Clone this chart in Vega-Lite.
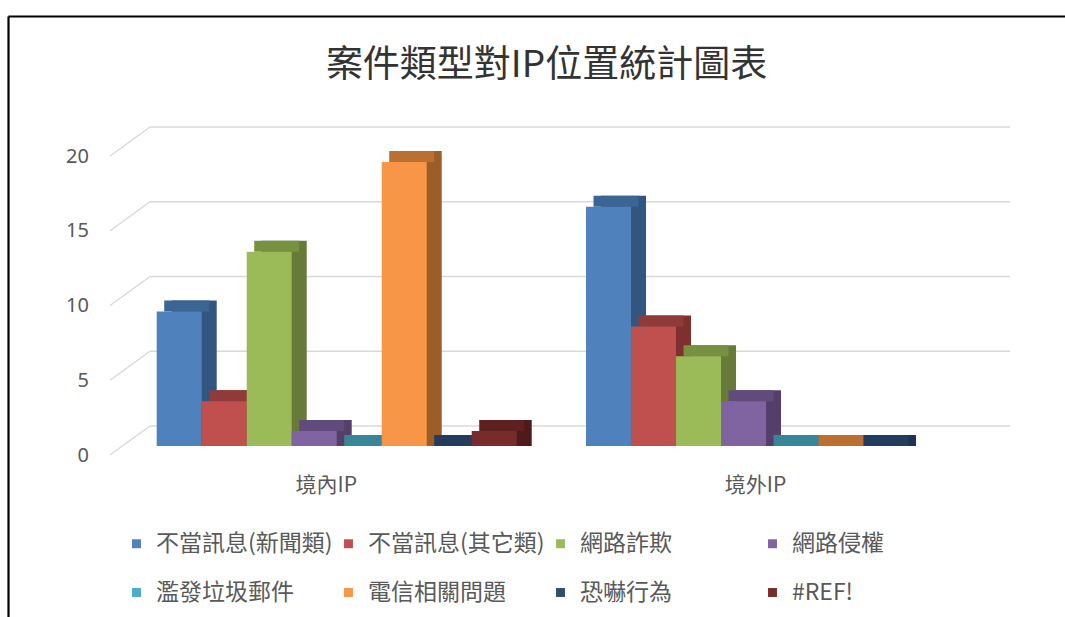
{
  "$schema": "https://vega.github.io/schema/vega-lite/v6.json",
  "width": 1057,
  "height": 601,
  "autosize": {"type": "none"},
  "padding": {"left": 8, "top": 16, "right": 0, "bottom": 0},
  "background": "white",
  "title": {
    "text": "案件類型對IP位置統計圖表",
    "font": "Noto Sans CJK TC",
    "fontSize": 37,
    "fontWeight": "normal",
    "color": "#333333",
    "anchor": "middle",
    "frame": "group",
    "baseline": "middle",
    "offset": 0,
    "dy": 87,
    "dx": 10
  },
  "config": {"view": {"stroke": null}},
  "datasets": {
    "cases": [
      {"group": "境內IP", "series": "不當訊息(新聞類)", "value": 9},
      {"group": "境內IP", "series": "不當訊息(其它類)", "value": 3},
      {"group": "境內IP", "series": "網路詐欺", "value": 13},
      {"group": "境內IP", "series": "網路侵權", "value": 1},
      {"group": "境內IP", "series": "濫發垃圾郵件", "value": 0},
      {"group": "境內IP", "series": "電信相關問題", "value": 19},
      {"group": "境內IP", "series": "恐嚇行為", "value": 0},
      {"group": "境內IP", "series": "#REF!", "value": 1},
      {"group": "境外IP", "series": "不當訊息(新聞類)", "value": 16},
      {"group": "境外IP", "series": "不當訊息(其它類)", "value": 8},
      {"group": "境外IP", "series": "網路詐欺", "value": 6},
      {"group": "境外IP", "series": "網路侵權", "value": 3},
      {"group": "境外IP", "series": "濫發垃圾郵件", "value": 0},
      {"group": "境外IP", "series": "電信相關問題", "value": 0},
      {"group": "境外IP", "series": "恐嚇行為", "value": 0}
    ],
    "grid": [{"v": 0}, {"v": 5}, {"v": 10}, {"v": 15}, {"v": 20}]
  },
  "layer": [
    {
      "data": {"name": "grid"},
      "mark": {"type": "rule", "color": "#d9d9d9", "strokeWidth": 1.5, "xOffset": -226.7, "x2Offset": -186.7, "yOffset": 9, "y2Offset": -20},
      "encoding": {
        "x": {"datum": "境內IP", "type": "nominal", "scale": {"domain": ["境內IP", "境外IP"], "paddingInner": 0.1615, "paddingOuter": 0.3118, "align": 0.5555}},
        "x2": {"datum": "境內IP"},
        "y": {"field": "v", "type": "quantitative", "scale": {"domain": [-11.438, 28.763], "nice": false, "zero": false}},
        "y2": {"field": "v"}
      }
    },
    {
      "data": {"name": "grid"},
      "mark": {"type": "rule", "color": "#d9d9d9", "strokeWidth": 1.5, "xOffset": -186.7, "x2Offset": 244, "yOffset": -20},
      "encoding": {
        "x": {"datum": "境內IP", "type": "nominal", "scale": {"domain": ["境內IP", "境外IP"], "paddingInner": 0.1615, "paddingOuter": 0.3118, "align": 0.5555}},
        "x2": {"datum": "境外IP"},
        "y": {"field": "v", "type": "quantitative", "scale": {"domain": [-11.438, 28.763], "nice": false, "zero": false}}
      }
    },
    {
      "data": {"name": "cases"},
      "mark": {"type": "bar", "yOffset": -11},
      "encoding": {
        "x": {"field": "group", "type": "nominal", "scale": {"domain": ["境內IP", "境外IP"], "paddingInner": 0.1615, "paddingOuter": 0.3118, "align": 0.5555}},
        "xOffset": {"field": "series", "type": "nominal", "scale": {"domain": ["不當訊息(新聞類)", "不當訊息(其它類)", "網路詐欺", "網路侵權", "濫發垃圾郵件", "電信相關問題", "恐嚇行為", "#REF!"], "paddingInner": 0, "paddingOuter": 0, "range": [15, 375]}},
        "y": {"field": "value", "type": "quantitative", "scale": {"domain": [-11.438, 28.763], "nice": false, "zero": false}},
        "y2": {"datum": 0},
        "color": {"field": "series", "type": "nominal", "legend": null, "scale": {"domain": ["不當訊息(新聞類)", "不當訊息(其它類)", "網路詐欺", "網路侵權", "濫發垃圾郵件", "電信相關問題", "恐嚇行為", "#REF!"], "range": ["#335681", "#7E302E", "#677A37", "#543F6B", "#2E7483", "#9D5D29", "#1D334F", "#4F1B1A"]}}
      }
    },
    {
      "data": {"name": "cases"},
      "mark": {"type": "bar", "yOffset": -11, "y2Offset": 0},
      "encoding": {
        "x": {"field": "group", "type": "nominal", "scale": {"domain": ["境內IP", "境外IP"], "paddingInner": 0.1615, "paddingOuter": 0.3118, "align": 0.5555}},
        "xOffset": {"field": "series", "type": "nominal", "scale": {"domain": ["不當訊息(新聞類)", "不當訊息(其它類)", "網路詐欺", "網路侵權", "濫發垃圾郵件", "電信相關問題", "恐嚇行為", "#REF!"], "paddingInner": 0, "paddingOuter": 0, "range": [7.5, 367.5]}},
        "y": {"field": "value", "type": "quantitative", "scale": {"domain": [-11.438, 28.763], "nice": false, "zero": false}},
        "y2": {"field": "value"},
        "color": {"field": "series", "type": "nominal", "legend": null, "scale": {"domain": ["不當訊息(新聞類)", "不當訊息(其它類)", "網路詐欺", "網路侵權", "濫發垃圾郵件", "電信相關問題", "恐嚇行為", "#REF!"], "range": ["#3B6593", "#8E3B39", "#789140", "#614B7D", "#378597", "#BB6F31", "#243D5E", "#5F2120"]}}
      }
    },
    {
      "data": {"name": "cases"},
      "mark": {"type": "bar"},
      "encoding": {
        "x": {
          "field": "group", "type": "nominal",
          "scale": {"domain": ["境內IP", "境外IP"], "paddingInner": 0.1615, "paddingOuter": 0.3118, "align": 0.5555},
          "axis": {
            "orient": "top", "title": null, "grid": false, "ticks": false, "tickSize": 0,
            "domain": true, "domainColor": "#000000", "domainWidth": 2.2,
            "labelPadding": -469, "labelBaseline": "middle", "labelAlign": "center", "labelOffset": -10.5, "labelAngle": 0,
            "labelFont": "Noto Sans CJK TC", "labelFontSize": 21, "labelColor": "#595959"
          }
        },
        "xOffset": {"field": "series", "type": "nominal", "scale": {"domain": ["不當訊息(新聞類)", "不當訊息(其它類)", "網路詐欺", "網路侵權", "濫發垃圾郵件", "電信相關問題", "恐嚇行為", "#REF!"], "paddingInner": 0, "paddingOuter": 0, "range": [0, 360]}},
        "y": {
          "field": "value", "type": "quantitative",
          "scale": {"domain": [-11.438, 28.763], "nice": false, "zero": false},
          "axis": {
            "orient": "left", "title": null, "grid": false, "ticks": false, "tickSize": 0,
            "values": [0, 5, 10, 15, 20],
            "domain": true, "domainColor": "#000000", "domainWidth": 2.2,
            "labelPadding": -80.5, "labelAlign": "right", "labelBaseline": "middle", "labelOffset": 9,
            "labelFont": "Noto Sans", "labelFontSize": 20, "labelColor": "#595959"
          }
        },
        "color": {
          "field": "series", "type": "nominal",
          "scale": {"domain": ["不當訊息(新聞類)", "不當訊息(其它類)", "網路詐欺", "網路侵權", "濫發垃圾郵件", "電信相關問題", "恐嚇行為", "#REF!"], "range": ["#4F81BD", "#C0504D", "#9BBB59", "#8064A2", "#4BACC6", "#F79646", "#2C4D75", "#772C2A"]},
          "legend": {
            "orient": "none", "legendX": 117, "legendY": 516, "columns": 4, "direction": "horizontal", "title": null,
            "symbolType": "square", "symbolSize": 80, "symbolStrokeWidth": 0,
            "labelFont": "Noto Sans CJK TC", "labelFontSize": 23, "labelColor": "#595959",
            "labelOffset": 8, "labelLimit": 400, "gridAlign": "all", "columnPadding": 4, "rowPadding": 25, "padding": 0
          }
        }
      }
    }
  ],
  "resolve": {"scale": {"color": "independent", "xOffset": "independent"}}
}
